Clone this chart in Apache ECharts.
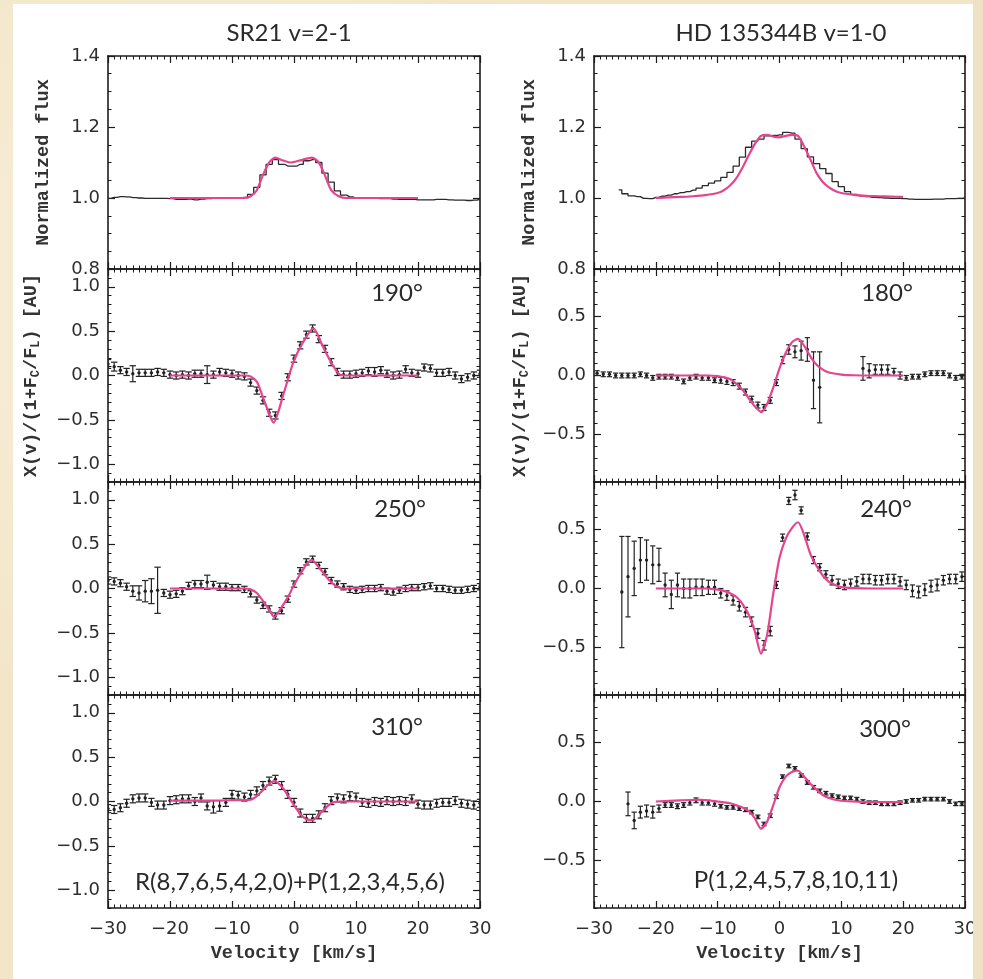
<!DOCTYPE html>
<html>
<head>
<meta charset="utf-8">
<script src="https://cdn.jsdelivr.net/npm/echarts@6/dist/echarts.min.js"></script>
<style>
  html, body { margin: 0; padding: 0; }
  body {
    width: 983px; height: 979px; position: relative; overflow: hidden;
    background:
      radial-gradient(ellipse at 20% 30%, rgba(255,250,235,0.55), rgba(255,250,235,0) 45%),
      radial-gradient(ellipse at 80% 70%, rgba(225,205,165,0.35), rgba(225,205,165,0) 50%),
      #f2e5c8;
  }
  #sheet { position: absolute; left: 13px; top: 4px; width: 960px; height: 975px; background: #ffffff; }
  #chart { position: absolute; left: 0; top: 0; width: 983px; height: 979px; }
  #edge { position: absolute; left: 973px; top: 0; width: 10px; height: 979px; background: #efe2c4; }
</style>
</head>
<body>
<div id="sheet"></div>
<div id="chart"></div>
<div id="edge"></div>
<script>
// ---------------------------------------------------------------
// Velocity grids (km/s)
// ---------------------------------------------------------------
const VEL_INT = [-30,-29,-28,-27,-26,-25,-24,-23,-22,-21,-20,-19,-18,-17,-16,-15,-14,-13,-12,-11,
  -10,-9,-8,-7,-6,-5,-4,-3,-2,-1,0,1,2,3,4,5,6,7,8,9,10,11,12,13,14,15,16,17,18,19,20,
  21,22,23,24,25,26,27,28,29,30];
const VEL_HALF = [-29.5,-28.5,-27.5,-26.5,-25.5,-24.5,-23.5,-22.5,-21.5,-20.5,
  -19.5,-18.5,-17.5,-16.5,-15.5,-14.5,-13.5,-12.5,-11.5,-10.5,
  -9.5,-8.5,-7.5,-6.5,-5.5,-4.5,-3.5,-2.5,-1.5,-0.5,
  0.5,1.5,2.5,3.5,4.5,5.5,6.5,7.5,8.5,9.5,
  10.5,11.5,12.5,13.5,14.5,15.5,16.5,17.5,18.5,19.5,
  20.5,21.5,22.5,23.5,24.5,25.5,26.5,27.5,28.5,29.5];

// ---------------------------------------------------------------
// SR21 v=2-1 : normalized line flux (on VEL_INT)
// ---------------------------------------------------------------
const SR21_FLUX = [0.999,1.002,1.004,1.003,1.001,1.000,0.999,0.999,0.999,0.999,
  0.998,0.996,0.996,0.997,0.995,0.997,0.998,0.999,0.999,0.999,
  1.000,1.000,1.002,1.010,1.030,1.065,1.095,1.108,1.095,1.090,
  1.090,
  1.095,1.105,1.108,1.100,1.070,1.045,1.020,1.008,1.003,1.000,
  1.000,0.999,0.999,0.998,0.998,0.997,0.996,0.996,0.996,0.995,
  0.995,0.995,0.996,0.996,0.995,0.994,0.994,0.993,0.994,0.996];
const SR21_FLUX_FIT = [[-20,1.0],[-8,1.0],[-7,1.005],[-6,1.022],[-5,1.065],[-4,1.1],[-3,1.114],
  [-2,1.107],[-0.6,1.1],[1,1.106],[2.9,1.114],[4,1.1],[5,1.063],[6,1.022],[7.2,1.005],[8.5,1.0],[20,1.0]];

// SR21 spectro-astrometric signal, PA 190 / 250 / 310 deg (on VEL_INT)
const SR21_190_Y = [0.13,0.10,0.06,0.04,0.02,0.03,0.03,0.03,0.04,0.03,
  0.01,0.00,0.01,0.00,0.02,0.02,0.01,0.01,0.04,0.03,
  0.02,0.00,-0.01,-0.08,-0.17,-0.28,-0.42,-0.45,-0.23,-0.02,
  0.19,
  0.34,0.46,0.53,0.41,0.30,0.15,0.04,0.01,0.01,0.02,
  0.03,0.05,0.04,0.06,0.02,0.00,0.01,0.07,0.03,0.02,
  0.09,0.08,0.03,0.03,0.04,0.00,-0.04,-0.02,0.00,0.02];
const SR21_190_E = [0.05,0.05,0.04,0.04,0.09,0.04,0.04,0.04,0.04,0.04,
  0.04,0.04,0.04,0.04,0.04,0.04,0.10,0.04,0.04,0.04,
  0.04,0.04,0.04,0.04,0.04,0.04,0.04,0.04,0.04,0.04,
  0.04,
  0.04,0.04,0.04,0.04,0.04,0.04,0.04,0.04,0.04,0.04,
  0.04,0.04,0.05,0.04,0.04,0.04,0.04,0.04,0.04,0.04,
  0.04,0.04,0.04,0.04,0.04,0.04,0.04,0.04,0.04,0.04];
const SR21_190_FIT = [[-20,0],[-8,0],[-7,-0.01],[-6,-0.07],[-5.4,-0.17],[-4.4,-0.36],[-3.3,-0.53],
  [-1.7,-0.21],[-0.1,0.15],[1.5,0.38],[3.1,0.53],[4.7,0.32],[6.3,0.11],[7.4,0.01],[8.5,0],[20,0]];

const SR21_250_Y = [0.09,0.08,0.06,0.02,-0.03,-0.05,-0.03,-0.03,-0.02,-0.05,
  -0.07,-0.06,-0.03,0.03,0.05,0.05,0.07,0.04,0.02,0.02,
  0.01,0.01,-0.01,-0.06,-0.13,-0.19,-0.23,-0.31,-0.25,-0.12,
  0.05,
  0.20,0.30,0.33,0.26,0.19,0.09,0.05,0.02,-0.01,-0.02,
  -0.01,0.00,0.00,0.01,-0.03,-0.04,-0.02,0.00,0.01,0.01,
  0.02,0.03,0.00,0.00,-0.01,-0.02,-0.02,-0.01,0.00,0.02];
const SR21_250_E = [0.04,0.04,0.04,0.04,0.06,0.08,0.12,0.14,0.26,0.04,
  0.04,0.04,0.04,0.04,0.04,0.04,0.08,0.04,0.04,0.04,
  0.035,0.035,0.035,0.035,0.035,0.035,0.035,0.035,0.035,0.035,
  0.035,
  0.035,0.035,0.035,0.035,0.035,0.035,0.035,0.035,0.035,0.035,
  0.035,0.035,0.035,0.035,0.035,0.035,0.035,0.035,0.035,0.035,
  0.035,0.035,0.035,0.035,0.035,0.035,0.035,0.035,0.035,0.035];
const SR21_250_FIT = [[-20,0],[-8,0],[-7,-0.01],[-6,-0.05],[-5,-0.14],[-4,-0.24],[-3.2,-0.32],
  [-2,-0.21],[-1,-0.1],[0,0.04],[1,0.16],[2,0.27],[2.9,0.32],[4,0.24],[5,0.15],[6,0.07],[7,0.02],[8,0],[20,0]];

const SR21_310_Y = [-0.08,-0.09,-0.07,-0.02,0.03,0.04,0.04,-0.01,-0.04,-0.04,
  0.01,0.02,0.03,0.03,0.00,0.04,-0.05,-0.06,-0.05,-0.01,
  0.08,0.07,0.05,0.08,0.12,0.18,0.23,0.25,0.18,0.08,
  -0.01,
  -0.13,-0.19,-0.19,-0.15,-0.07,0.01,0.04,0.03,0.06,0.05,
  -0.01,-0.02,0.00,-0.01,0.01,0.00,0.01,0.00,0.03,-0.03,
  -0.04,-0.04,-0.02,-0.01,-0.01,0.01,-0.02,-0.03,-0.04,-0.02];
const SR21_310_E = [0.045,0.045,0.045,0.045,0.045,0.045,0.045,0.045,0.045,0.045,
  0.045,0.045,0.045,0.045,0.045,0.045,0.045,0.07,0.06,0.045,
  0.045,0.045,0.045,0.045,0.045,0.045,0.045,0.045,0.045,0.045,
  0.045,
  0.045,0.045,0.045,0.045,0.045,0.045,0.045,0.045,0.05,0.045,
  0.045,0.045,0.045,0.045,0.045,0.045,0.045,0.045,0.045,0.045,
  0.045,0.045,0.045,0.045,0.045,0.045,0.045,0.045,0.045,0.045];
const SR21_310_FIT = [[-20,0.01],[-15,0.01],[-10,0.015],[-7,0.02],[-6,0.06],[-5,0.13],[-4,0.2],[-3.2,0.23],
  [-2,0.17],[-1,0.07],[0,-0.04],[1,-0.14],[2,-0.2],[3,-0.21],[4,-0.15],[5,-0.08],[6,-0.02],[7,0],[20,0]];

// ---------------------------------------------------------------
// HD 135344B v=1-0 : normalized line flux (on VEL_INT)
// ---------------------------------------------------------------
const HD_FLUX = [null,null,null,null,1.023,1.012,1.006,1.004,0.999,0.998,
  1.002,1.005,1.008,1.012,1.015,1.018,1.022,1.028,1.035,1.042,
  1.048,1.058,1.072,1.090,1.115,1.143,1.160,1.166,1.175,1.176,
  1.178,
  1.185,1.183,1.166,1.139,1.116,1.097,1.083,1.069,1.046,1.032,
  1.018,1.010,1.006,1.004,1.002,1.001,1.000,0.999,0.999,0.998,
  0.997,0.996,0.996,0.996,0.997,0.997,0.998,0.998,0.999,1.000];
const HD_FLUX_FIT = [[-20,1.0],[-18,1.002],[-16,1.003],[-14,1.005],[-12,1.008],[-10,1.014],[-9,1.022],
  [-8,1.035],[-7,1.055],[-6,1.085],[-5,1.12],[-4,1.152],[-3,1.175],[-2,1.178],[-1,1.173],[0,1.171],
  [1,1.175],[2,1.178],[3,1.175],[4,1.145],[5,1.108],[6,1.07],[7,1.045],[8,1.03],[9,1.02],[10,1.014],
  [12,1.009],[14,1.006],[16,1.005],[18,1.004],[20,1.003]];

// HD 135344B spectro-astrometric signal, PA 180 / 240 / 300 deg (on VEL_HALF)
const HD_180_Y = [0.02,0.01,0.01,0.00,0.00,0.00,0.00,0.01,0.00,-0.02,
  -0.01,-0.01,-0.01,-0.02,-0.05,-0.02,-0.01,-0.02,-0.02,-0.04,
  -0.04,-0.05,-0.06,-0.09,-0.14,-0.20,-0.25,-0.27,-0.21,-0.06,
  0.13,0.22,0.20,0.21,0.22,-0.04,-0.10,null,null,null,
  null,null,null,0.06,0.04,0.05,0.05,0.05,0.03,0.00,
  -0.02,-0.01,-0.01,0.01,0.02,0.02,0.02,0.00,-0.02,-0.01];
const HD_180_E = [0.02,0.02,0.02,0.02,0.02,0.02,0.02,0.02,0.02,0.02,
  0.02,0.02,0.02,0.02,0.02,0.02,0.02,0.02,0.02,0.02,
  0.025,0.025,0.025,0.025,0.025,0.025,0.025,0.025,0.025,0.025,
  0.03,0.04,0.05,0.08,0.10,0.24,0.30,null,null,null,
  null,null,null,0.10,0.06,0.04,0.04,0.04,0.03,0.03,
  0.02,0.02,0.02,0.02,0.02,0.02,0.02,0.02,0.02,0.02];
const HD_180_FIT = [[-20,0],[-12,0],[-10,-0.005],[-8,-0.03],[-7,-0.07],[-6,-0.12],[-5,-0.19],[-4,-0.26],
  [-2.9,-0.31],[-2,-0.24],[-1,-0.1],[0,0.06],[1,0.19],[2,0.28],[3,0.31],[4,0.25],[5,0.16],[6,0.09],
  [7,0.05],[8,0.025],[10,0.008],[12,0.002],[15,0],[20,0]];

const HD_240_Y = [null,null,null,null,-0.03,0.10,0.17,0.24,0.24,0.20,
  0.20,0.03,-0.05,0.03,0.00,0.00,0.01,0.01,0.01,0.01,
  -0.04,-0.06,-0.10,-0.15,-0.20,-0.28,-0.38,-0.48,-0.36,0.03,
  0.43,0.74,0.79,0.66,0.44,0.24,0.18,0.12,0.07,0.04,
  0.03,0.04,0.06,0.08,0.08,0.07,0.07,0.08,0.08,0.06,
  0.03,-0.02,-0.03,-0.01,0.02,0.03,0.07,0.08,0.08,0.10];
const HD_240_E = [null,null,null,null,0.47,0.34,0.23,0.19,0.17,0.16,
  0.14,0.10,0.12,0.10,0.08,0.08,0.07,0.07,0.06,0.06,
  0.04,0.04,0.04,0.04,0.04,0.04,0.04,0.04,0.04,0.03,
  0.03,0.03,0.04,0.03,0.03,0.03,0.03,0.03,0.04,0.04,
  0.04,0.04,0.04,0.04,0.04,0.04,0.04,0.04,0.04,0.04,
  0.04,0.05,0.05,0.05,0.05,0.05,0.04,0.04,0.04,0.04];
const HD_240_FIT = [[-20,0],[-12,0],[-10,-0.01],[-9,-0.02],[-8,-0.04],[-7,-0.07],[-6,-0.13],[-5,-0.22],
  [-4,-0.36],[-3,-0.55],[-2,-0.39],[-1,-0.04],[0,0.26],[1,0.42],[2,0.51],[3,0.56],[4,0.45],[5,0.29],
  [6,0.19],[7,0.11],[8,0.055],[9,0.03],[10,0.012],[12,0.003],[15,0],[20,0]];

const HD_300_Y = [null,null,null,null,null,-0.02,-0.16,-0.09,-0.08,-0.09,
  -0.06,-0.03,-0.03,-0.04,-0.03,-0.01,0.01,-0.01,-0.01,-0.02,
  -0.04,-0.05,-0.05,-0.06,-0.07,-0.09,-0.13,-0.19,-0.12,0.04,
  0.21,0.30,0.28,0.22,0.16,0.12,0.09,0.07,0.05,0.04,
  0.03,0.03,0.02,0.00,-0.01,-0.01,-0.02,-0.02,-0.02,-0.01,
  0.00,0.01,0.01,0.02,0.02,0.02,0.02,0.00,-0.02,-0.02];
const HD_300_E = [null,null,null,null,null,0.10,0.07,0.05,0.05,0.05,
  0.03,0.02,0.02,0.02,0.02,0.02,0.02,0.02,0.02,0.02,
  0.015,0.015,0.015,0.015,0.015,0.015,0.015,0.015,0.015,0.015,
  0.015,0.015,0.015,0.015,0.015,0.015,0.015,0.015,0.015,0.015,
  0.015,0.015,0.015,0.015,0.015,0.015,0.015,0.015,0.015,0.015,
  0.015,0.015,0.015,0.015,0.015,0.015,0.015,0.015,0.015,0.015];
const HD_300_FIT = [[-20,0.0],[-16,0.01],[-13,0.015],[-10,0.0],[-8,-0.015],[-6,-0.05],[-5,-0.08],[-4,-0.14],
  [-3,-0.23],[-2,-0.17],[-1,-0.03],[0,0.12],[1,0.21],[2,0.25],[3,0.26],[4,0.21],[5,0.15],[6,0.1],
  [7,0.055],[8,0.03],[9,0.015],[11,0.002],[14,-0.005],[20,-0.005]];

// Axis tick positions
const X_RANGE = [-30, 30];
const FLUX_RANGE = [0.8, 1.4];
const FLUX_TICKS = [0.8, 1.0, 1.2, 1.4];
const SR21_RANGE = [-1.2, 1.2];
const SR21_TICKS = [-1.0, -0.5, 0.0, 0.5, 1.0];
const HD_RANGE = [-0.9, 0.9];
const HD_TICKS = [-0.5, 0.0, 0.5];

// Text
const TITLES = ['SR21 v=2-1', 'HD 135344B v=1-0'];
const PA_LABELS = [['190°', '250°', '310°'], ['180°', '240°', '300°']];
const LINE_SETS = ['R(8,7,6,5,4,2,0)+P(1,2,3,4,5,6)', 'P(1,2,4,5,7,8,10,11)'];

// ---------------------------------------------------------------
// Layout and styling
// ---------------------------------------------------------------
const COL_LEFT = [108, 594];
const COL_W = [372, 371];
const ROW_TOP = [56, 269, 482, 695];
const ROW_H = 213;
const INK = '#1c1c1c';
const PINK = '#e5448f';
const TICK_FONT = 'DejaVu Sans';
const NAME_FONT = 'Liberation Mono';
const ANNOT_FONT = 'Lato';

function minorList(lo, hi, step) {
  const out = [];
  const n = Math.round((hi - lo) / step);
  for (let k = 0; k <= n; k++) out.push(+(lo + k * step).toFixed(3));
  return out;
}
function pairs(vs, ys) {
  const out = [];
  vs.forEach((v, i) => { if (ys[i] !== null && ys[i] !== undefined) out.push([v, ys[i]]); });
  return out;
}
function triples(vs, ys, es) {
  const out = [];
  vs.forEach((v, i) => { if (ys[i] !== null && ys[i] !== undefined) out.push([v, ys[i], es[i]]); });
  return out;
}
function fmt(v, dec) {
  const s = Math.abs(v).toFixed(dec);
  return (v < -1e-9 ? '\u2212' : '') + s;
}

const YNAME_X = 'X(v)/(1+F{s|C}/F{s|L}) [AU]';

const panels = [
  { col: 0, row: 0, range: FLUX_RANGE, ticks: FLUX_TICKS, minor: 0.05, flux: pairs(VEL_INT, SR21_FLUX), fit: SR21_FLUX_FIT, yname: 'Normalized flux', gap: 55 },
  { col: 0, row: 1, range: SR21_RANGE, ticks: SR21_TICKS, minor: 0.1, pts: triples(VEL_INT, SR21_190_Y, SR21_190_E), fit: SR21_190_FIT, yname: YNAME_X, gap: 66 },
  { col: 0, row: 2, range: SR21_RANGE, ticks: SR21_TICKS, minor: 0.1, pts: triples(VEL_INT, SR21_250_Y, SR21_250_E), fit: SR21_250_FIT },
  { col: 0, row: 3, range: SR21_RANGE, ticks: SR21_TICKS, minor: 0.1, pts: triples(VEL_INT, SR21_310_Y, SR21_310_E), fit: SR21_310_FIT },
  { col: 1, row: 0, range: FLUX_RANGE, ticks: FLUX_TICKS, minor: 0.05, flux: pairs(VEL_INT, HD_FLUX), fit: HD_FLUX_FIT, yname: 'Normalized flux', gap: 55 },
  { col: 1, row: 1, range: HD_RANGE, ticks: HD_TICKS, minor: 0.1, pts: triples(VEL_HALF, HD_180_Y, HD_180_E), fit: HD_180_FIT, yname: YNAME_X, gap: 63 },
  { col: 1, row: 2, range: HD_RANGE, ticks: HD_TICKS, minor: 0.1, pts: triples(VEL_HALF, HD_240_Y, HD_240_E), fit: HD_240_FIT },
  { col: 1, row: 3, range: HD_RANGE, ticks: HD_TICKS, minor: 0.1, pts: triples(VEL_HALF, HD_300_Y, HD_300_E), fit: HD_300_FIT }
];

const lineStyle = { color: INK, width: 1.6 };
const tickStyle = { color: INK, width: 1.2 };

const grid = [], xAxis = [], yAxis = [], series = [];

panels.forEach((p, gi) => {
  grid.push({ left: COL_LEFT[p.col], top: ROW_TOP[p.row], width: COL_W[p.col], height: ROW_H,
    containLabel: false, outerBoundsMode: 'none' });

  const bottomRow = p.row === 3;
  const xBase = {
    gridIndex: gi, type: 'value', min: X_RANGE[0], max: X_RANGE[1], interval: 10,
    axisLine: { show: true, onZero: false, lineStyle },
    axisTick: { show: true, inside: true, length: 7, lineStyle: tickStyle },
    minorTick: { show: true, splitNumber: 10, length: 3.5, lineStyle: { color: INK, width: 1 } },
    splitLine: { show: false }, minorSplitLine: { show: false }
  };
  xAxis.push(Object.assign({}, xBase, {
    position: 'bottom',
    axisLabel: { show: bottomRow, margin: 12, fontFamily: TICK_FONT, fontSize: 18, color: '#2e2e2e',
      showMinLabel: true, showMaxLabel: true, formatter: v => fmt(v, 0) },
    name: bottomRow ? 'Velocity [km/s]' : '', nameLocation: 'middle', nameGap: 36,
    nameTextStyle: { fontFamily: NAME_FONT, fontWeight: 'bold', fontSize: 18.5, color: '#333' }
  }));
  xAxis.push(Object.assign({}, xBase, { position: 'top', axisLabel: { show: false } }));

  const minors = minorList(p.range[0], p.range[1], p.minor);
  const yBase = {
    gridIndex: gi, type: 'value', min: p.range[0], max: p.range[1],
    splitLine: { show: false }, minorSplitLine: { show: false }
  };
  // left, with labels
  yAxis.push(Object.assign({}, yBase, {
    position: 'left',
    axisLine: { show: true, onZero: false, lineStyle },
    axisTick: { show: true, inside: true, length: 7, lineStyle: tickStyle, customValues: p.ticks },
    axisLabel: { show: true, customValues: p.ticks, margin: 8, fontFamily: TICK_FONT, fontSize: 18,
      color: '#2e2e2e', formatter: v => fmt(v, 1) },
    name: p.yname || '', nameLocation: 'middle', nameGap: p.gap || 50, nameRotate: 90,
    nameTextStyle: { fontFamily: NAME_FONT, fontWeight: 'bold', fontSize: 18.5, color: '#333',
      rich: { s: { fontFamily: NAME_FONT, fontWeight: 'bold', fontSize: 12, color: '#333',
        verticalAlign: 'bottom', padding: [10, 0, 0, 0] } } }
  }));
  // right mirror
  yAxis.push(Object.assign({}, yBase, {
    position: 'right',
    axisLine: { show: true, onZero: false, lineStyle },
    axisTick: { show: true, inside: true, length: 7, lineStyle: tickStyle, customValues: p.ticks },
    axisLabel: { show: false }
  }));
  // minor ticks, left and right
  ['left', 'right'].forEach(pos => {
    yAxis.push(Object.assign({}, yBase, {
      position: pos,
      axisLine: { show: false, onZero: false },
      axisTick: { show: true, inside: true, length: 3.5, lineStyle: { color: INK, width: 1 }, customValues: minors },
      axisLabel: { show: false }
    }));
  });

  const xi = 2 * gi, yi = 4 * gi;
  if (p.flux) {
    series.push({ type: 'line', xAxisIndex: xi, yAxisIndex: yi, data: p.flux, step: 'middle',
      showSymbol: false, silent: true, lineStyle: { color: '#2a2a2a', width: 1.3 }, z: 3 });
  }
  if (p.pts) {
    const cap = p.col === 0 ? 3.2 : 2.6;
    series.push({
      type: 'custom', xAxisIndex: xi, yAxisIndex: yi, data: p.pts, silent: true, clip: true, z: 4,
      encode: { x: 0, y: 1 },
      renderItem: (params, api) => {
        const v = api.value(0), y = api.value(1), e = api.value(2);
        const c = api.coord([v, y]);
        const hi = api.coord([v, y + e]);
        const lo = api.coord([v, y - e]);
        const st = { stroke: '#222', lineWidth: 1.2 };
        return { type: 'group', children: [
          { type: 'line', shape: { x1: c[0], y1: hi[1], x2: c[0], y2: lo[1] }, style: st },
          { type: 'line', shape: { x1: c[0] - cap, y1: hi[1], x2: c[0] + cap, y2: hi[1] }, style: st },
          { type: 'line', shape: { x1: c[0] - cap, y1: lo[1], x2: c[0] + cap, y2: lo[1] }, style: st },
          { type: 'circle', shape: { cx: c[0], cy: c[1], r: 1.7 }, style: { fill: '#222' } }
        ] };
      }
    });
  }
  series.push({ type: 'line', xAxisIndex: xi, yAxisIndex: yi, data: p.fit, smooth: 0.25,
    showSymbol: false, silent: true, lineStyle: { color: PINK, width: 2.2 }, z: 5 });
});

// Titles and in-panel annotations
const graphic = [];
const txt = (text, x, y, size) => ({
  type: 'text', x, y, silent: true,
  style: { text, fill: '#2a2a2a', font: size + 'px ' + ANNOT_FONT, textAlign: 'center', textVerticalAlign: 'middle',
    align: 'center', verticalAlign: 'middle' }
});
graphic.push(txt(TITLES[0], 289, 33, 24));
graphic.push(txt(TITLES[1], 781, 33, 24));
const paPos = [[[397, 293], [400, 509], [397, 727]], [[887, 293], [886, 509], [885, 729]]];
PA_LABELS.forEach((col, c) => col.forEach((t, r) => graphic.push(txt(t, paPos[c][r][0], paPos[c][r][1], 24))));
graphic.push(txt(LINE_SETS[0], 290, 882, 24));
graphic.push(txt(LINE_SETS[1], 796, 880, 24));

const chart = echarts.init(document.getElementById('chart'), null, { renderer: 'canvas' });
chart.setOption({
  animation: false,
  backgroundColor: 'transparent',
  grid, xAxis, yAxis, series, graphic
});
</script>
</body>
</html>
